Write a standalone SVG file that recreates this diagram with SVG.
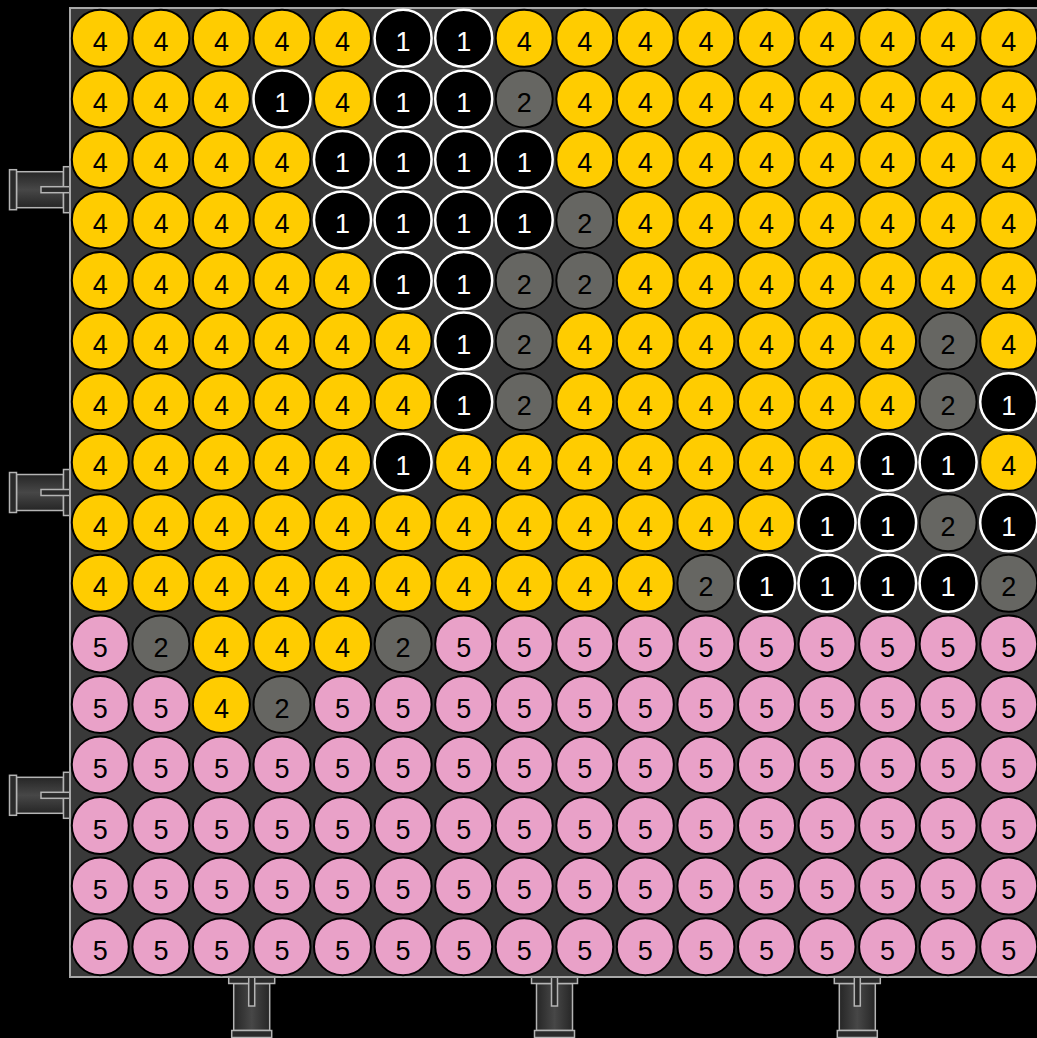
<svg xmlns="http://www.w3.org/2000/svg" width="1037" height="1038" viewBox="0 0 1037 1038">
<style>
.bg{fill:#000}
.board{fill:#393939;stroke:#a8a8a8;stroke-width:2}
.node circle{stroke-width:2}
.n4 circle{fill:#ffcc00;stroke:#000}
.n5 circle{fill:#e9a1c8;stroke:#000}
.n2 circle{fill:#666662;stroke:#000}
.n1 circle{fill:#000;stroke:#fff;stroke-width:2.5}
text{font-family:"Liberation Sans",Arial,sans-serif;font-size:27px;text-anchor:middle;fill:#000}
.n1 text{fill:#fff}
.pt{stroke:#b4b4b4;stroke-width:1.5}
</style>
<defs>
<linearGradient id="pg" x1="0" y1="0" x2="0" y2="1">
<stop offset="0" stop-color="#262626"/><stop offset="0.5" stop-color="#474747"/><stop offset="1" stop-color="#262626"/>
</linearGradient>
<g id="port">
<rect class="pt" x="6.5" y="-18" width="47" height="36" fill="url(#pg)"/>
<rect class="pt" x="53.5" y="-20" width="7" height="40" fill="#2a2a2a"/>
<rect class="pt" x="0" y="-23" width="6.5" height="46" fill="#2a2a2a"/>
<rect class="pt" x="0" y="-3" width="29" height="6" fill="#2a2a2a"/>
</g>
</defs>
<rect class="bg" x="0" y="0" width="1037" height="1038"/>
<g id="ports">
<use href="#port" transform="translate(70 189.7) rotate(180)"/>
<use href="#port" transform="translate(70 492.5) rotate(180)"/>
<use href="#port" transform="translate(70 795.3) rotate(180)"/>
<use href="#port" transform="translate(251.7 977) rotate(90)"/>
<use href="#port" transform="translate(554.5 977) rotate(90)"/>
<use href="#port" transform="translate(857.3 977) rotate(90)"/>
</g>
<rect id="board" class="board" x="70" y="8" width="980" height="969"/>
<g id="nodes">
<g transform="translate(0 38.3)">
<g id="n0-0" class="node n4" transform="translate(100.3 0)"><circle r="28.5"/><text y="13">4</text></g>
<g id="n0-1" class="node n4" transform="translate(160.9 0)"><circle r="28.5"/><text y="13">4</text></g>
<g id="n0-2" class="node n4" transform="translate(221.4 0)"><circle r="28.5"/><text y="13">4</text></g>
<g id="n0-3" class="node n4" transform="translate(282 0)"><circle r="28.5"/><text y="13">4</text></g>
<g id="n0-4" class="node n4" transform="translate(342.5 0)"><circle r="28.5"/><text y="13">4</text></g>
<g id="n0-5" class="node n1" transform="translate(403.1 0)"><circle r="28.5"/><text y="13">1</text></g>
<g id="n0-6" class="node n1" transform="translate(463.7 0)"><circle r="28.5"/><text y="13">1</text></g>
<g id="n0-7" class="node n4" transform="translate(524.2 0)"><circle r="28.5"/><text y="13">4</text></g>
<g id="n0-8" class="node n4" transform="translate(584.8 0)"><circle r="28.5"/><text y="13">4</text></g>
<g id="n0-9" class="node n4" transform="translate(645.3 0)"><circle r="28.5"/><text y="13">4</text></g>
<g id="n0-10" class="node n4" transform="translate(705.9 0)"><circle r="28.5"/><text y="13">4</text></g>
<g id="n0-11" class="node n4" transform="translate(766.5 0)"><circle r="28.5"/><text y="13">4</text></g>
<g id="n0-12" class="node n4" transform="translate(827 0)"><circle r="28.5"/><text y="13">4</text></g>
<g id="n0-13" class="node n4" transform="translate(887.6 0)"><circle r="28.5"/><text y="13">4</text></g>
<g id="n0-14" class="node n4" transform="translate(948.1 0)"><circle r="28.5"/><text y="13">4</text></g>
<g id="n0-15" class="node n4" transform="translate(1008.7 0)"><circle r="28.5"/><text y="13">4</text></g>
</g>
<g transform="translate(0 98.9)">
<g id="n1-0" class="node n4" transform="translate(100.3 0)"><circle r="28.5"/><text y="13">4</text></g>
<g id="n1-1" class="node n4" transform="translate(160.9 0)"><circle r="28.5"/><text y="13">4</text></g>
<g id="n1-2" class="node n4" transform="translate(221.4 0)"><circle r="28.5"/><text y="13">4</text></g>
<g id="n1-3" class="node n1" transform="translate(282 0)"><circle r="28.5"/><text y="13">1</text></g>
<g id="n1-4" class="node n4" transform="translate(342.5 0)"><circle r="28.5"/><text y="13">4</text></g>
<g id="n1-5" class="node n1" transform="translate(403.1 0)"><circle r="28.5"/><text y="13">1</text></g>
<g id="n1-6" class="node n1" transform="translate(463.7 0)"><circle r="28.5"/><text y="13">1</text></g>
<g id="n1-7" class="node n2" transform="translate(524.2 0)"><circle r="28.5"/><text y="13">2</text></g>
<g id="n1-8" class="node n4" transform="translate(584.8 0)"><circle r="28.5"/><text y="13">4</text></g>
<g id="n1-9" class="node n4" transform="translate(645.3 0)"><circle r="28.5"/><text y="13">4</text></g>
<g id="n1-10" class="node n4" transform="translate(705.9 0)"><circle r="28.5"/><text y="13">4</text></g>
<g id="n1-11" class="node n4" transform="translate(766.5 0)"><circle r="28.5"/><text y="13">4</text></g>
<g id="n1-12" class="node n4" transform="translate(827 0)"><circle r="28.5"/><text y="13">4</text></g>
<g id="n1-13" class="node n4" transform="translate(887.6 0)"><circle r="28.5"/><text y="13">4</text></g>
<g id="n1-14" class="node n4" transform="translate(948.1 0)"><circle r="28.5"/><text y="13">4</text></g>
<g id="n1-15" class="node n4" transform="translate(1008.7 0)"><circle r="28.5"/><text y="13">4</text></g>
</g>
<g transform="translate(0 159.4)">
<g id="n2-0" class="node n4" transform="translate(100.3 0)"><circle r="28.5"/><text y="13">4</text></g>
<g id="n2-1" class="node n4" transform="translate(160.9 0)"><circle r="28.5"/><text y="13">4</text></g>
<g id="n2-2" class="node n4" transform="translate(221.4 0)"><circle r="28.5"/><text y="13">4</text></g>
<g id="n2-3" class="node n4" transform="translate(282 0)"><circle r="28.5"/><text y="13">4</text></g>
<g id="n2-4" class="node n1" transform="translate(342.5 0)"><circle r="28.5"/><text y="13">1</text></g>
<g id="n2-5" class="node n1" transform="translate(403.1 0)"><circle r="28.5"/><text y="13">1</text></g>
<g id="n2-6" class="node n1" transform="translate(463.7 0)"><circle r="28.5"/><text y="13">1</text></g>
<g id="n2-7" class="node n1" transform="translate(524.2 0)"><circle r="28.5"/><text y="13">1</text></g>
<g id="n2-8" class="node n4" transform="translate(584.8 0)"><circle r="28.5"/><text y="13">4</text></g>
<g id="n2-9" class="node n4" transform="translate(645.3 0)"><circle r="28.5"/><text y="13">4</text></g>
<g id="n2-10" class="node n4" transform="translate(705.9 0)"><circle r="28.5"/><text y="13">4</text></g>
<g id="n2-11" class="node n4" transform="translate(766.5 0)"><circle r="28.5"/><text y="13">4</text></g>
<g id="n2-12" class="node n4" transform="translate(827 0)"><circle r="28.5"/><text y="13">4</text></g>
<g id="n2-13" class="node n4" transform="translate(887.6 0)"><circle r="28.5"/><text y="13">4</text></g>
<g id="n2-14" class="node n4" transform="translate(948.1 0)"><circle r="28.5"/><text y="13">4</text></g>
<g id="n2-15" class="node n4" transform="translate(1008.7 0)"><circle r="28.5"/><text y="13">4</text></g>
</g>
<g transform="translate(0 220)">
<g id="n3-0" class="node n4" transform="translate(100.3 0)"><circle r="28.5"/><text y="13">4</text></g>
<g id="n3-1" class="node n4" transform="translate(160.9 0)"><circle r="28.5"/><text y="13">4</text></g>
<g id="n3-2" class="node n4" transform="translate(221.4 0)"><circle r="28.5"/><text y="13">4</text></g>
<g id="n3-3" class="node n4" transform="translate(282 0)"><circle r="28.5"/><text y="13">4</text></g>
<g id="n3-4" class="node n1" transform="translate(342.5 0)"><circle r="28.5"/><text y="13">1</text></g>
<g id="n3-5" class="node n1" transform="translate(403.1 0)"><circle r="28.5"/><text y="13">1</text></g>
<g id="n3-6" class="node n1" transform="translate(463.7 0)"><circle r="28.5"/><text y="13">1</text></g>
<g id="n3-7" class="node n1" transform="translate(524.2 0)"><circle r="28.5"/><text y="13">1</text></g>
<g id="n3-8" class="node n2" transform="translate(584.8 0)"><circle r="28.5"/><text y="13">2</text></g>
<g id="n3-9" class="node n4" transform="translate(645.3 0)"><circle r="28.5"/><text y="13">4</text></g>
<g id="n3-10" class="node n4" transform="translate(705.9 0)"><circle r="28.5"/><text y="13">4</text></g>
<g id="n3-11" class="node n4" transform="translate(766.5 0)"><circle r="28.5"/><text y="13">4</text></g>
<g id="n3-12" class="node n4" transform="translate(827 0)"><circle r="28.5"/><text y="13">4</text></g>
<g id="n3-13" class="node n4" transform="translate(887.6 0)"><circle r="28.5"/><text y="13">4</text></g>
<g id="n3-14" class="node n4" transform="translate(948.1 0)"><circle r="28.5"/><text y="13">4</text></g>
<g id="n3-15" class="node n4" transform="translate(1008.7 0)"><circle r="28.5"/><text y="13">4</text></g>
</g>
<g transform="translate(0 280.5)">
<g id="n4-0" class="node n4" transform="translate(100.3 0)"><circle r="28.5"/><text y="13">4</text></g>
<g id="n4-1" class="node n4" transform="translate(160.9 0)"><circle r="28.5"/><text y="13">4</text></g>
<g id="n4-2" class="node n4" transform="translate(221.4 0)"><circle r="28.5"/><text y="13">4</text></g>
<g id="n4-3" class="node n4" transform="translate(282 0)"><circle r="28.5"/><text y="13">4</text></g>
<g id="n4-4" class="node n4" transform="translate(342.5 0)"><circle r="28.5"/><text y="13">4</text></g>
<g id="n4-5" class="node n1" transform="translate(403.1 0)"><circle r="28.5"/><text y="13">1</text></g>
<g id="n4-6" class="node n1" transform="translate(463.7 0)"><circle r="28.5"/><text y="13">1</text></g>
<g id="n4-7" class="node n2" transform="translate(524.2 0)"><circle r="28.5"/><text y="13">2</text></g>
<g id="n4-8" class="node n2" transform="translate(584.8 0)"><circle r="28.5"/><text y="13">2</text></g>
<g id="n4-9" class="node n4" transform="translate(645.3 0)"><circle r="28.5"/><text y="13">4</text></g>
<g id="n4-10" class="node n4" transform="translate(705.9 0)"><circle r="28.5"/><text y="13">4</text></g>
<g id="n4-11" class="node n4" transform="translate(766.5 0)"><circle r="28.5"/><text y="13">4</text></g>
<g id="n4-12" class="node n4" transform="translate(827 0)"><circle r="28.5"/><text y="13">4</text></g>
<g id="n4-13" class="node n4" transform="translate(887.6 0)"><circle r="28.5"/><text y="13">4</text></g>
<g id="n4-14" class="node n4" transform="translate(948.1 0)"><circle r="28.5"/><text y="13">4</text></g>
<g id="n4-15" class="node n4" transform="translate(1008.7 0)"><circle r="28.5"/><text y="13">4</text></g>
</g>
<g transform="translate(0 341.1)">
<g id="n5-0" class="node n4" transform="translate(100.3 0)"><circle r="28.5"/><text y="13">4</text></g>
<g id="n5-1" class="node n4" transform="translate(160.9 0)"><circle r="28.5"/><text y="13">4</text></g>
<g id="n5-2" class="node n4" transform="translate(221.4 0)"><circle r="28.5"/><text y="13">4</text></g>
<g id="n5-3" class="node n4" transform="translate(282 0)"><circle r="28.5"/><text y="13">4</text></g>
<g id="n5-4" class="node n4" transform="translate(342.5 0)"><circle r="28.5"/><text y="13">4</text></g>
<g id="n5-5" class="node n4" transform="translate(403.1 0)"><circle r="28.5"/><text y="13">4</text></g>
<g id="n5-6" class="node n1" transform="translate(463.7 0)"><circle r="28.5"/><text y="13">1</text></g>
<g id="n5-7" class="node n2" transform="translate(524.2 0)"><circle r="28.5"/><text y="13">2</text></g>
<g id="n5-8" class="node n4" transform="translate(584.8 0)"><circle r="28.5"/><text y="13">4</text></g>
<g id="n5-9" class="node n4" transform="translate(645.3 0)"><circle r="28.5"/><text y="13">4</text></g>
<g id="n5-10" class="node n4" transform="translate(705.9 0)"><circle r="28.5"/><text y="13">4</text></g>
<g id="n5-11" class="node n4" transform="translate(766.5 0)"><circle r="28.5"/><text y="13">4</text></g>
<g id="n5-12" class="node n4" transform="translate(827 0)"><circle r="28.5"/><text y="13">4</text></g>
<g id="n5-13" class="node n4" transform="translate(887.6 0)"><circle r="28.5"/><text y="13">4</text></g>
<g id="n5-14" class="node n2" transform="translate(948.1 0)"><circle r="28.5"/><text y="13">2</text></g>
<g id="n5-15" class="node n4" transform="translate(1008.7 0)"><circle r="28.5"/><text y="13">4</text></g>
</g>
<g transform="translate(0 401.7)">
<g id="n6-0" class="node n4" transform="translate(100.3 0)"><circle r="28.5"/><text y="13">4</text></g>
<g id="n6-1" class="node n4" transform="translate(160.9 0)"><circle r="28.5"/><text y="13">4</text></g>
<g id="n6-2" class="node n4" transform="translate(221.4 0)"><circle r="28.5"/><text y="13">4</text></g>
<g id="n6-3" class="node n4" transform="translate(282 0)"><circle r="28.5"/><text y="13">4</text></g>
<g id="n6-4" class="node n4" transform="translate(342.5 0)"><circle r="28.5"/><text y="13">4</text></g>
<g id="n6-5" class="node n4" transform="translate(403.1 0)"><circle r="28.5"/><text y="13">4</text></g>
<g id="n6-6" class="node n1" transform="translate(463.7 0)"><circle r="28.5"/><text y="13">1</text></g>
<g id="n6-7" class="node n2" transform="translate(524.2 0)"><circle r="28.5"/><text y="13">2</text></g>
<g id="n6-8" class="node n4" transform="translate(584.8 0)"><circle r="28.5"/><text y="13">4</text></g>
<g id="n6-9" class="node n4" transform="translate(645.3 0)"><circle r="28.5"/><text y="13">4</text></g>
<g id="n6-10" class="node n4" transform="translate(705.9 0)"><circle r="28.5"/><text y="13">4</text></g>
<g id="n6-11" class="node n4" transform="translate(766.5 0)"><circle r="28.5"/><text y="13">4</text></g>
<g id="n6-12" class="node n4" transform="translate(827 0)"><circle r="28.5"/><text y="13">4</text></g>
<g id="n6-13" class="node n4" transform="translate(887.6 0)"><circle r="28.5"/><text y="13">4</text></g>
<g id="n6-14" class="node n2" transform="translate(948.1 0)"><circle r="28.5"/><text y="13">2</text></g>
<g id="n6-15" class="node n1" transform="translate(1008.7 0)"><circle r="28.5"/><text y="13">1</text></g>
</g>
<g transform="translate(0 462.2)">
<g id="n7-0" class="node n4" transform="translate(100.3 0)"><circle r="28.5"/><text y="13">4</text></g>
<g id="n7-1" class="node n4" transform="translate(160.9 0)"><circle r="28.5"/><text y="13">4</text></g>
<g id="n7-2" class="node n4" transform="translate(221.4 0)"><circle r="28.5"/><text y="13">4</text></g>
<g id="n7-3" class="node n4" transform="translate(282 0)"><circle r="28.5"/><text y="13">4</text></g>
<g id="n7-4" class="node n4" transform="translate(342.5 0)"><circle r="28.5"/><text y="13">4</text></g>
<g id="n7-5" class="node n1" transform="translate(403.1 0)"><circle r="28.5"/><text y="13">1</text></g>
<g id="n7-6" class="node n4" transform="translate(463.7 0)"><circle r="28.5"/><text y="13">4</text></g>
<g id="n7-7" class="node n4" transform="translate(524.2 0)"><circle r="28.5"/><text y="13">4</text></g>
<g id="n7-8" class="node n4" transform="translate(584.8 0)"><circle r="28.5"/><text y="13">4</text></g>
<g id="n7-9" class="node n4" transform="translate(645.3 0)"><circle r="28.5"/><text y="13">4</text></g>
<g id="n7-10" class="node n4" transform="translate(705.9 0)"><circle r="28.5"/><text y="13">4</text></g>
<g id="n7-11" class="node n4" transform="translate(766.5 0)"><circle r="28.5"/><text y="13">4</text></g>
<g id="n7-12" class="node n4" transform="translate(827 0)"><circle r="28.5"/><text y="13">4</text></g>
<g id="n7-13" class="node n1" transform="translate(887.6 0)"><circle r="28.5"/><text y="13">1</text></g>
<g id="n7-14" class="node n1" transform="translate(948.1 0)"><circle r="28.5"/><text y="13">1</text></g>
<g id="n7-15" class="node n4" transform="translate(1008.7 0)"><circle r="28.5"/><text y="13">4</text></g>
</g>
<g transform="translate(0 522.8)">
<g id="n8-0" class="node n4" transform="translate(100.3 0)"><circle r="28.5"/><text y="13">4</text></g>
<g id="n8-1" class="node n4" transform="translate(160.9 0)"><circle r="28.5"/><text y="13">4</text></g>
<g id="n8-2" class="node n4" transform="translate(221.4 0)"><circle r="28.5"/><text y="13">4</text></g>
<g id="n8-3" class="node n4" transform="translate(282 0)"><circle r="28.5"/><text y="13">4</text></g>
<g id="n8-4" class="node n4" transform="translate(342.5 0)"><circle r="28.5"/><text y="13">4</text></g>
<g id="n8-5" class="node n4" transform="translate(403.1 0)"><circle r="28.5"/><text y="13">4</text></g>
<g id="n8-6" class="node n4" transform="translate(463.7 0)"><circle r="28.5"/><text y="13">4</text></g>
<g id="n8-7" class="node n4" transform="translate(524.2 0)"><circle r="28.5"/><text y="13">4</text></g>
<g id="n8-8" class="node n4" transform="translate(584.8 0)"><circle r="28.5"/><text y="13">4</text></g>
<g id="n8-9" class="node n4" transform="translate(645.3 0)"><circle r="28.5"/><text y="13">4</text></g>
<g id="n8-10" class="node n4" transform="translate(705.9 0)"><circle r="28.5"/><text y="13">4</text></g>
<g id="n8-11" class="node n4" transform="translate(766.5 0)"><circle r="28.5"/><text y="13">4</text></g>
<g id="n8-12" class="node n1" transform="translate(827 0)"><circle r="28.5"/><text y="13">1</text></g>
<g id="n8-13" class="node n1" transform="translate(887.6 0)"><circle r="28.5"/><text y="13">1</text></g>
<g id="n8-14" class="node n2" transform="translate(948.1 0)"><circle r="28.5"/><text y="13">2</text></g>
<g id="n8-15" class="node n1" transform="translate(1008.7 0)"><circle r="28.5"/><text y="13">1</text></g>
</g>
<g transform="translate(0 583.3)">
<g id="n9-0" class="node n4" transform="translate(100.3 0)"><circle r="28.5"/><text y="13">4</text></g>
<g id="n9-1" class="node n4" transform="translate(160.9 0)"><circle r="28.5"/><text y="13">4</text></g>
<g id="n9-2" class="node n4" transform="translate(221.4 0)"><circle r="28.5"/><text y="13">4</text></g>
<g id="n9-3" class="node n4" transform="translate(282 0)"><circle r="28.5"/><text y="13">4</text></g>
<g id="n9-4" class="node n4" transform="translate(342.5 0)"><circle r="28.5"/><text y="13">4</text></g>
<g id="n9-5" class="node n4" transform="translate(403.1 0)"><circle r="28.5"/><text y="13">4</text></g>
<g id="n9-6" class="node n4" transform="translate(463.7 0)"><circle r="28.5"/><text y="13">4</text></g>
<g id="n9-7" class="node n4" transform="translate(524.2 0)"><circle r="28.5"/><text y="13">4</text></g>
<g id="n9-8" class="node n4" transform="translate(584.8 0)"><circle r="28.5"/><text y="13">4</text></g>
<g id="n9-9" class="node n4" transform="translate(645.3 0)"><circle r="28.5"/><text y="13">4</text></g>
<g id="n9-10" class="node n2" transform="translate(705.9 0)"><circle r="28.5"/><text y="13">2</text></g>
<g id="n9-11" class="node n1" transform="translate(766.5 0)"><circle r="28.5"/><text y="13">1</text></g>
<g id="n9-12" class="node n1" transform="translate(827 0)"><circle r="28.5"/><text y="13">1</text></g>
<g id="n9-13" class="node n1" transform="translate(887.6 0)"><circle r="28.5"/><text y="13">1</text></g>
<g id="n9-14" class="node n1" transform="translate(948.1 0)"><circle r="28.5"/><text y="13">1</text></g>
<g id="n9-15" class="node n2" transform="translate(1008.7 0)"><circle r="28.5"/><text y="13">2</text></g>
</g>
<g transform="translate(0 643.9)">
<g id="n10-0" class="node n5" transform="translate(100.3 0)"><circle r="28.5"/><text y="13">5</text></g>
<g id="n10-1" class="node n2" transform="translate(160.9 0)"><circle r="28.5"/><text y="13">2</text></g>
<g id="n10-2" class="node n4" transform="translate(221.4 0)"><circle r="28.5"/><text y="13">4</text></g>
<g id="n10-3" class="node n4" transform="translate(282 0)"><circle r="28.5"/><text y="13">4</text></g>
<g id="n10-4" class="node n4" transform="translate(342.5 0)"><circle r="28.5"/><text y="13">4</text></g>
<g id="n10-5" class="node n2" transform="translate(403.1 0)"><circle r="28.5"/><text y="13">2</text></g>
<g id="n10-6" class="node n5" transform="translate(463.7 0)"><circle r="28.5"/><text y="13">5</text></g>
<g id="n10-7" class="node n5" transform="translate(524.2 0)"><circle r="28.5"/><text y="13">5</text></g>
<g id="n10-8" class="node n5" transform="translate(584.8 0)"><circle r="28.5"/><text y="13">5</text></g>
<g id="n10-9" class="node n5" transform="translate(645.3 0)"><circle r="28.5"/><text y="13">5</text></g>
<g id="n10-10" class="node n5" transform="translate(705.9 0)"><circle r="28.5"/><text y="13">5</text></g>
<g id="n10-11" class="node n5" transform="translate(766.5 0)"><circle r="28.5"/><text y="13">5</text></g>
<g id="n10-12" class="node n5" transform="translate(827 0)"><circle r="28.5"/><text y="13">5</text></g>
<g id="n10-13" class="node n5" transform="translate(887.6 0)"><circle r="28.5"/><text y="13">5</text></g>
<g id="n10-14" class="node n5" transform="translate(948.1 0)"><circle r="28.5"/><text y="13">5</text></g>
<g id="n10-15" class="node n5" transform="translate(1008.7 0)"><circle r="28.5"/><text y="13">5</text></g>
</g>
<g transform="translate(0 704.5)">
<g id="n11-0" class="node n5" transform="translate(100.3 0)"><circle r="28.5"/><text y="13">5</text></g>
<g id="n11-1" class="node n5" transform="translate(160.9 0)"><circle r="28.5"/><text y="13">5</text></g>
<g id="n11-2" class="node n4" transform="translate(221.4 0)"><circle r="28.5"/><text y="13">4</text></g>
<g id="n11-3" class="node n2" transform="translate(282 0)"><circle r="28.5"/><text y="13">2</text></g>
<g id="n11-4" class="node n5" transform="translate(342.5 0)"><circle r="28.5"/><text y="13">5</text></g>
<g id="n11-5" class="node n5" transform="translate(403.1 0)"><circle r="28.5"/><text y="13">5</text></g>
<g id="n11-6" class="node n5" transform="translate(463.7 0)"><circle r="28.5"/><text y="13">5</text></g>
<g id="n11-7" class="node n5" transform="translate(524.2 0)"><circle r="28.5"/><text y="13">5</text></g>
<g id="n11-8" class="node n5" transform="translate(584.8 0)"><circle r="28.5"/><text y="13">5</text></g>
<g id="n11-9" class="node n5" transform="translate(645.3 0)"><circle r="28.5"/><text y="13">5</text></g>
<g id="n11-10" class="node n5" transform="translate(705.9 0)"><circle r="28.5"/><text y="13">5</text></g>
<g id="n11-11" class="node n5" transform="translate(766.5 0)"><circle r="28.5"/><text y="13">5</text></g>
<g id="n11-12" class="node n5" transform="translate(827 0)"><circle r="28.5"/><text y="13">5</text></g>
<g id="n11-13" class="node n5" transform="translate(887.6 0)"><circle r="28.5"/><text y="13">5</text></g>
<g id="n11-14" class="node n5" transform="translate(948.1 0)"><circle r="28.5"/><text y="13">5</text></g>
<g id="n11-15" class="node n5" transform="translate(1008.7 0)"><circle r="28.5"/><text y="13">5</text></g>
</g>
<g transform="translate(0 765)">
<g id="n12-0" class="node n5" transform="translate(100.3 0)"><circle r="28.5"/><text y="13">5</text></g>
<g id="n12-1" class="node n5" transform="translate(160.9 0)"><circle r="28.5"/><text y="13">5</text></g>
<g id="n12-2" class="node n5" transform="translate(221.4 0)"><circle r="28.5"/><text y="13">5</text></g>
<g id="n12-3" class="node n5" transform="translate(282 0)"><circle r="28.5"/><text y="13">5</text></g>
<g id="n12-4" class="node n5" transform="translate(342.5 0)"><circle r="28.5"/><text y="13">5</text></g>
<g id="n12-5" class="node n5" transform="translate(403.1 0)"><circle r="28.5"/><text y="13">5</text></g>
<g id="n12-6" class="node n5" transform="translate(463.7 0)"><circle r="28.5"/><text y="13">5</text></g>
<g id="n12-7" class="node n5" transform="translate(524.2 0)"><circle r="28.5"/><text y="13">5</text></g>
<g id="n12-8" class="node n5" transform="translate(584.8 0)"><circle r="28.5"/><text y="13">5</text></g>
<g id="n12-9" class="node n5" transform="translate(645.3 0)"><circle r="28.5"/><text y="13">5</text></g>
<g id="n12-10" class="node n5" transform="translate(705.9 0)"><circle r="28.5"/><text y="13">5</text></g>
<g id="n12-11" class="node n5" transform="translate(766.5 0)"><circle r="28.5"/><text y="13">5</text></g>
<g id="n12-12" class="node n5" transform="translate(827 0)"><circle r="28.5"/><text y="13">5</text></g>
<g id="n12-13" class="node n5" transform="translate(887.6 0)"><circle r="28.5"/><text y="13">5</text></g>
<g id="n12-14" class="node n5" transform="translate(948.1 0)"><circle r="28.5"/><text y="13">5</text></g>
<g id="n12-15" class="node n5" transform="translate(1008.7 0)"><circle r="28.5"/><text y="13">5</text></g>
</g>
<g transform="translate(0 825.6)">
<g id="n13-0" class="node n5" transform="translate(100.3 0)"><circle r="28.5"/><text y="13">5</text></g>
<g id="n13-1" class="node n5" transform="translate(160.9 0)"><circle r="28.5"/><text y="13">5</text></g>
<g id="n13-2" class="node n5" transform="translate(221.4 0)"><circle r="28.5"/><text y="13">5</text></g>
<g id="n13-3" class="node n5" transform="translate(282 0)"><circle r="28.5"/><text y="13">5</text></g>
<g id="n13-4" class="node n5" transform="translate(342.5 0)"><circle r="28.5"/><text y="13">5</text></g>
<g id="n13-5" class="node n5" transform="translate(403.1 0)"><circle r="28.5"/><text y="13">5</text></g>
<g id="n13-6" class="node n5" transform="translate(463.7 0)"><circle r="28.5"/><text y="13">5</text></g>
<g id="n13-7" class="node n5" transform="translate(524.2 0)"><circle r="28.5"/><text y="13">5</text></g>
<g id="n13-8" class="node n5" transform="translate(584.8 0)"><circle r="28.5"/><text y="13">5</text></g>
<g id="n13-9" class="node n5" transform="translate(645.3 0)"><circle r="28.5"/><text y="13">5</text></g>
<g id="n13-10" class="node n5" transform="translate(705.9 0)"><circle r="28.5"/><text y="13">5</text></g>
<g id="n13-11" class="node n5" transform="translate(766.5 0)"><circle r="28.5"/><text y="13">5</text></g>
<g id="n13-12" class="node n5" transform="translate(827 0)"><circle r="28.5"/><text y="13">5</text></g>
<g id="n13-13" class="node n5" transform="translate(887.6 0)"><circle r="28.5"/><text y="13">5</text></g>
<g id="n13-14" class="node n5" transform="translate(948.1 0)"><circle r="28.5"/><text y="13">5</text></g>
<g id="n13-15" class="node n5" transform="translate(1008.7 0)"><circle r="28.5"/><text y="13">5</text></g>
</g>
<g transform="translate(0 886.1)">
<g id="n14-0" class="node n5" transform="translate(100.3 0)"><circle r="28.5"/><text y="13">5</text></g>
<g id="n14-1" class="node n5" transform="translate(160.9 0)"><circle r="28.5"/><text y="13">5</text></g>
<g id="n14-2" class="node n5" transform="translate(221.4 0)"><circle r="28.5"/><text y="13">5</text></g>
<g id="n14-3" class="node n5" transform="translate(282 0)"><circle r="28.5"/><text y="13">5</text></g>
<g id="n14-4" class="node n5" transform="translate(342.5 0)"><circle r="28.5"/><text y="13">5</text></g>
<g id="n14-5" class="node n5" transform="translate(403.1 0)"><circle r="28.5"/><text y="13">5</text></g>
<g id="n14-6" class="node n5" transform="translate(463.7 0)"><circle r="28.5"/><text y="13">5</text></g>
<g id="n14-7" class="node n5" transform="translate(524.2 0)"><circle r="28.5"/><text y="13">5</text></g>
<g id="n14-8" class="node n5" transform="translate(584.8 0)"><circle r="28.5"/><text y="13">5</text></g>
<g id="n14-9" class="node n5" transform="translate(645.3 0)"><circle r="28.5"/><text y="13">5</text></g>
<g id="n14-10" class="node n5" transform="translate(705.9 0)"><circle r="28.5"/><text y="13">5</text></g>
<g id="n14-11" class="node n5" transform="translate(766.5 0)"><circle r="28.5"/><text y="13">5</text></g>
<g id="n14-12" class="node n5" transform="translate(827 0)"><circle r="28.5"/><text y="13">5</text></g>
<g id="n14-13" class="node n5" transform="translate(887.6 0)"><circle r="28.5"/><text y="13">5</text></g>
<g id="n14-14" class="node n5" transform="translate(948.1 0)"><circle r="28.5"/><text y="13">5</text></g>
<g id="n14-15" class="node n5" transform="translate(1008.7 0)"><circle r="28.5"/><text y="13">5</text></g>
</g>
<g transform="translate(0 946.7)">
<g id="n15-0" class="node n5" transform="translate(100.3 0)"><circle r="28.5"/><text y="13">5</text></g>
<g id="n15-1" class="node n5" transform="translate(160.9 0)"><circle r="28.5"/><text y="13">5</text></g>
<g id="n15-2" class="node n5" transform="translate(221.4 0)"><circle r="28.5"/><text y="13">5</text></g>
<g id="n15-3" class="node n5" transform="translate(282 0)"><circle r="28.5"/><text y="13">5</text></g>
<g id="n15-4" class="node n5" transform="translate(342.5 0)"><circle r="28.5"/><text y="13">5</text></g>
<g id="n15-5" class="node n5" transform="translate(403.1 0)"><circle r="28.5"/><text y="13">5</text></g>
<g id="n15-6" class="node n5" transform="translate(463.7 0)"><circle r="28.5"/><text y="13">5</text></g>
<g id="n15-7" class="node n5" transform="translate(524.2 0)"><circle r="28.5"/><text y="13">5</text></g>
<g id="n15-8" class="node n5" transform="translate(584.8 0)"><circle r="28.5"/><text y="13">5</text></g>
<g id="n15-9" class="node n5" transform="translate(645.3 0)"><circle r="28.5"/><text y="13">5</text></g>
<g id="n15-10" class="node n5" transform="translate(705.9 0)"><circle r="28.5"/><text y="13">5</text></g>
<g id="n15-11" class="node n5" transform="translate(766.5 0)"><circle r="28.5"/><text y="13">5</text></g>
<g id="n15-12" class="node n5" transform="translate(827 0)"><circle r="28.5"/><text y="13">5</text></g>
<g id="n15-13" class="node n5" transform="translate(887.6 0)"><circle r="28.5"/><text y="13">5</text></g>
<g id="n15-14" class="node n5" transform="translate(948.1 0)"><circle r="28.5"/><text y="13">5</text></g>
<g id="n15-15" class="node n5" transform="translate(1008.7 0)"><circle r="28.5"/><text y="13">5</text></g>
</g>
</g>
</svg>
